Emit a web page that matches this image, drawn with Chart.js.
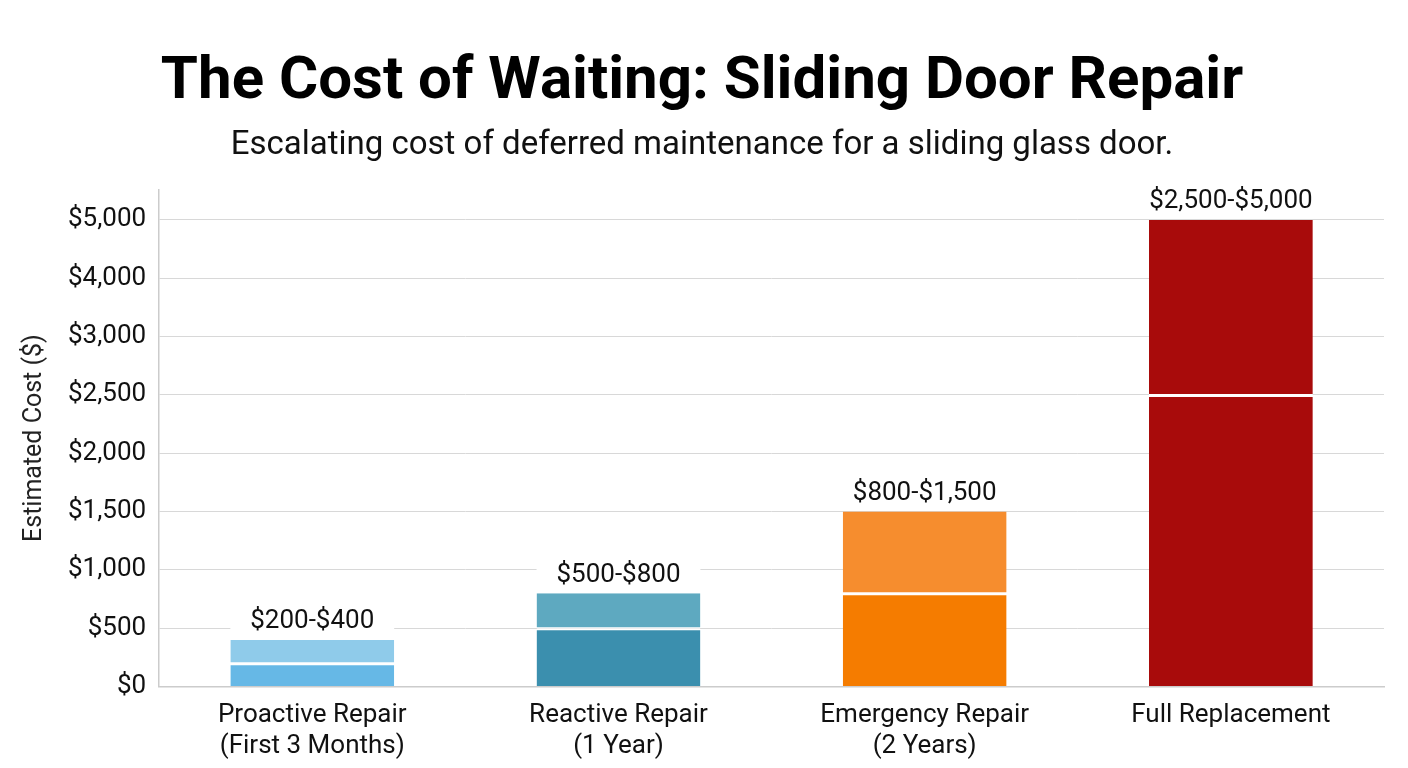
<!DOCTYPE html>
<html>
<head>
<meta charset="utf-8">
<title>The Cost of Waiting: Sliding Door Repair</title>
<script src="https://cdn.jsdelivr.net/npm/chart.js@4.4.1/dist/chart.umd.min.js"></script>
<style>
  html, body { margin: 0; padding: 0; background: #fff; }
  #wrap { position: relative; width: 1408px; height: 768px; }
</style>
</head>
<body>
<div id="wrap"><canvas id="costChart"></canvas></div>
<script>
const categories = [
  ['Proactive Repair', '(First 3 Months)'],
  ['Reactive Repair', '(1 Year)'],
  ['Emergency Repair', '(2 Years)'],
  ['Full Replacement'],
];
const lowCost = [200, 500, 800, 2500];
const highCost = [400, 800, 1500, 5000];
// y axis is not linear: ticks are evenly spaced
const tickValues = [0, 500, 1000, 1500, 2000, 2500, 3000, 4000, 5000];

const lowColors = ['#66b8e6', '#3b8fae', '#f57c00', '#a80b0b'];
const highColors = ['#8fcbea', '#5ea9c0', '#f68d2e', '#a80b0b'];

const money = (v) => '$' + v.toLocaleString('en-US');

// map a dollar value onto the evenly spaced tick positions
function toIdx(v) {
  for (let i = 0; i < tickValues.length - 1; i++) {
    if (v <= tickValues[i + 1]) {
      return i + (v - tickValues[i]) / (tickValues[i + 1] - tickValues[i]);
    }
  }
  return tickValues.length - 1;
}

const rangeLabelPlugin = {
  id: 'rangeLabels',
  afterDatasetsDraw(chart) {
    const ctx = chart.ctx;
    const meta = chart.getDatasetMeta(1);
    ctx.save();
    meta.data.forEach((bar, i) => {
      const w = bar.width;
      ctx.fillStyle = '#ffffff';
      ctx.fillRect(bar.x - w / 2, bar.y - 37, w, 36);
      ctx.fillStyle = '#111111';
      ctx.font = '26px Roboto';
      ctx.textAlign = 'center';
      ctx.textBaseline = 'middle';
      ctx.fillText(money(lowCost[i]) + '-' + money(highCost[i]), bar.x, bar.y - 18);
    });
    ctx.restore();
  },
};

Chart.defaults.font.family = 'Roboto';
Chart.defaults.color = '#111';

new Chart(document.getElementById('costChart'), {
  type: 'bar',
  data: {
    labels: categories,
    datasets: [
      {
        label: 'Low estimate',
        data: lowCost.map((v) => [0, toIdx(v)]),
        backgroundColor: lowColors,
        borderColor: '#ffffff',
        borderWidth: { top: 2 },
        borderSkipped: 'bottom',
      },
      {
        label: 'High estimate',
        data: lowCost.map((v, i) => [toIdx(v), toIdx(highCost[i])]),
        backgroundColor: highColors,
        borderColor: '#ffffff',
        borderWidth: { bottom: 1 },
        borderSkipped: 'top',
      },
    ],
  },
  options: {
    responsive: true,
    maintainAspectRatio: false,
    animation: false,
    datasets: { bar: { grouped: false, categoryPercentage: 1, barPercentage: 0.535 } },
    layout: { padding: { left: 20, right: 24, bottom: 1 } },
    plugins: {
      legend: { display: false },
      tooltip: { enabled: false },
      title: {
        display: true,
        text: 'The Cost of Waiting: Sliding Door Repair',
        font: { size: 60, weight: 'bold', lineHeight: 1.2 },
        color: '#000',
        padding: { top: 47, bottom: 7 },
      },
      subtitle: {
        display: true,
        text: 'Escalating cost of deferred maintenance for a sliding glass door.',
        font: { size: 33, lineHeight: 1.2 },
        color: '#111',
        padding: { bottom: 24 },
      },
    },
    scales: {
      x: {
        grid: { display: false },
        border: { display: true, color: '#cccccc', width: 1.5 },
        ticks: { font: { size: 26, lineHeight: 1.2 }, color: '#111', padding: 5, maxRotation: 0 },
      },
      y: {
        min: 0,
        max: 8.52,
        afterBuildTicks(scale) {
          scale.ticks = tickValues.map((v, i) => ({ value: i }));
        },
        grid: { color: '#d8d8d8', lineWidth: 1, drawTicks: false },
        border: { display: true, color: '#cccccc', width: 1.5 },
        ticks: {
          font: { size: 26 },
          color: '#111',
          padding: 13,
          callback: (value) => money(tickValues[value]),
        },
        title: {
          display: true,
          text: 'Estimated Cost ($)',
          font: { size: 25, lineHeight: 1.2 },
          color: '#222',
          padding: { top: 0, bottom: 5 },
        },
      },
    },
  },
  plugins: [rangeLabelPlugin],
});
</script>
</body>
</html>
